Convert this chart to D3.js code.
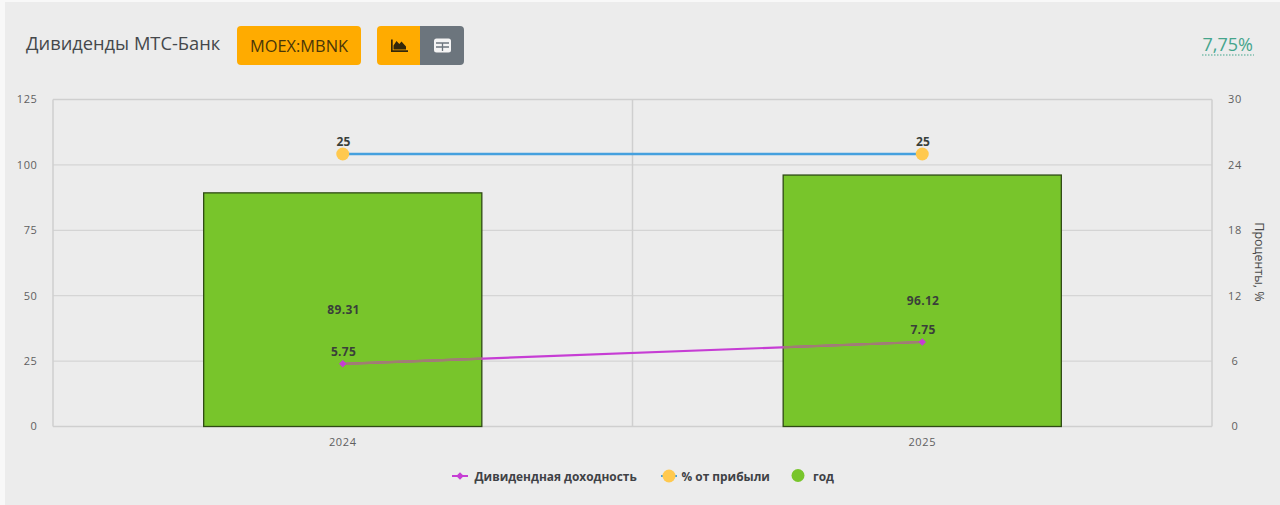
<!DOCTYPE html>
<html><head><meta charset="utf-8">
<script src="https://cdnjs.cloudflare.com/ajax/libs/d3/7.8.5/d3.min.js"></script>
<style>
html,body{margin:0;padding:0;background:#f8f8f8;overflow:hidden}
svg{display:block}
text{font-family:"Open Sans",sans-serif}
</style></head><body><svg id="c" width="1280" height="505"></svg>
<script>
const years=["2024","2025"];
const yearValues=[89.31,96.12];
const yieldValues=[5.75,7.75];
const profitShare=[25,25];
const leftTicks=[0,25,50,75,100,125];
const rightTicks=[0,6,12,18,24,30];
const legendLabels=["Дивидендная доходность","% от прибыли","год"];

const svg=d3.select("#c");
const M={l:53,r:1212,t:99.5,b:426.5};
svg.append("rect").attr("x",5).attr("y",2).attr("width",1275).attr("height",503).attr("fill","#ececec");

const x=d3.scaleBand().domain(years).range([M.l,M.r]);
const yL=d3.scaleLinear().domain([0,125]).range([M.b,M.t]);
const yR=d3.scaleLinear().domain([0,30]).range([M.b,M.t]);
const cx=d=>x(d)+x.bandwidth()/2;
const barW=x.bandwidth()*0.48;
const dataFont="'Noto Sans',sans-serif";

// header
svg.append("text").attr("x",26).attr("y",50).attr("font-size",18.3).attr("fill","#45484b").text("Дивиденды МТС-Банк");
svg.append("rect").attr("x",237).attr("y",26).attr("width",124).attr("height",39).attr("rx",4).attr("fill","#ffab00");
svg.append("text").attr("x",299).attr("y",51.5).attr("text-anchor","middle").attr("font-size",16.4).attr("fill","#4a3608").text("MOEX:MBNK");
svg.append("path").attr("d","M381 26h39v39h-39a4 4 0 0 1-4-4v-31a4 4 0 0 1 4-4z").attr("fill","#ffab00");
svg.append("path").attr("d","M420 26h40a4 4 0 0 1 4 4v31a4 4 0 0 1-4 4h-40z").attr("fill","#6c757d");
svg.append("path").attr("d","M391 39.500v12.500h17v-1.700h-15.300v-10.800zM393.500 49.500v-4l3-4.500 2.800 3 2.200-2.500 4.500 5v3z").attr("fill","#33270a");
svg.append("rect").attr("x",434).attr("y",38.500).attr("width",17).attr("height",14).attr("rx",2.500).attr("fill","#f4f4f4");
svg.append("path").attr("d","M436 47h13M442.500 43.500v7.500M436 43h13").attr("stroke","#6c757d").attr("stroke-width",1.300).attr("fill","none");
svg.append("text").attr("x",1253).attr("y",50.500).attr("text-anchor","end").attr("font-size",18).attr("fill","#45a58c").text("7,75%");
svg.append("line").attr("x1",1202).attr("x2",1254).attr("y1",55).attr("y2",55).attr("stroke","#45a58c").attr("stroke-width",1).attr("stroke-dasharray","1.500 1.500");

// grid
const grid=svg.append("g");
leftTicks.forEach(t=>grid.append("line").attr("x1",M.l).attr("x2",M.r).attr("y1",yL(t)).attr("y2",yL(t)).attr("stroke","#cfcfcf").attr("stroke-width",t===0||t===125?1.500:1));
[M.l,(M.l+M.r)/2,M.r].forEach(v=>grid.append("line").attr("x1",v).attr("x2",v).attr("y1",M.t).attr("y2",M.b).attr("stroke","#cfcfcf").attr("stroke-width",1.500));

// axes
const axL=svg.append("g").attr("transform",`translate(${M.l-15.500},0)`).call(d3.axisLeft(yL).tickValues(leftTicks).tickSize(0).tickPadding(0));
const axR=svg.append("g").attr("transform",`translate(${M.r+23},0)`).call(d3.axisRight(yR).tickValues(rightTicks).tickSize(0).tickPadding(0));
const axX=svg.append("g").attr("transform",`translate(0,${M.b+9})`).call(d3.axisBottom(x).tickSize(0).tickPadding(0));
[axL,axR,axX].forEach(a=>{a.select(".domain").remove();a.selectAll("text").attr("font-size",11).attr("fill","#5f5f5f").attr("letter-spacing",.6).attr("font-family","'Open Sans',sans-serif")});
axL.selectAll("text").attr("dy",".3em");
axR.selectAll("text").attr("dy",".3em").attr("text-anchor","middle");
axX.selectAll("text").attr("y",0).attr("dy",".95em");
svg.append("text").attr("transform",`translate(1255,262) rotate(90)`).attr("text-anchor","middle").attr("font-size",12.500).attr("fill","#4a4a4a").text("Проценты, %");

// bars
svg.append("g").selectAll("rect").data(years).join("rect")
 .attr("x",d=>cx(d)-barW/2).attr("width",barW)
 .attr("y",(d,i)=>yL(yearValues[i])).attr("height",(d,i)=>M.b-yL(yearValues[i]))
 .attr("fill","#78c52b").attr("stroke","#2e4a14").attr("stroke-width",1.300);

// lines
const pts=(vals)=>years.map((d,i)=>[cx(d),yR(vals[i])]);
const ln=d3.line();
const defs=svg.append("defs");
const cp=defs.append("clipPath").attr("id","inBars");
years.forEach((d,i)=>cp.append("rect").attr("x",cx(d)-barW/2).attr("width",barW).attr("y",yL(yearValues[i])).attr("height",M.b-yL(yearValues[i])));
svg.append("path").attr("d",ln(pts(profitShare))).attr("stroke","#45a0de").attr("stroke-width",2.400).attr("fill","none");
svg.append("path").attr("d",ln(pts(yieldValues))).attr("stroke","#c63dd4").attr("stroke-width",2.200).attr("fill","none");
svg.append("path").attr("d",ln(pts(yieldValues))).attr("stroke","#a07f70").attr("stroke-width",2.200).attr("fill","none").attr("clip-path","url(#inBars)");

// markers
const diamond=d3.symbol(d3.symbolSquare,28);
svg.append("g").selectAll("circle").data(pts(profitShare)).join("circle").attr("cx",d=>d[0]).attr("cy",d=>d[1]).attr("r",6.500).attr("fill","#ffc94f");
svg.append("g").selectAll("path").data(pts(yieldValues)).join("path").attr("transform",d=>`translate(${d[0]},${d[1]}) rotate(45)`).attr("d",diamond).attr("fill","#c63dd4");

// value labels
const lab=(px,py,t)=>svg.append("text").attr("x",px+.8).attr("y",py).attr("text-anchor","middle").attr("font-size",12).attr("font-weight",700).attr("letter-spacing",.3).attr("fill","#3a3f3a").attr("font-family",dataFont).text(t);
years.forEach((d,i)=>{
 lab(cx(d),yR(profitShare[i])-8,String(profitShare[i]));
 lab(cx(d),yR(yieldValues[i])-8,yieldValues[i].toFixed(2));
 lab(cx(d),(M.b+yL(yearValues[i]))/2+4,yearValues[i].toFixed(2));
});

// legend
const lg=svg.append("g").attr("font-weight",700).attr("font-size",11.900).attr("fill","#3f4246").attr("font-family",dataFont);
lg.append("line").attr("x1",452).attr("x2",468).attr("y1",476).attr("y2",476).attr("stroke","#c63dd4").attr("stroke-width",2);
lg.append("path").attr("transform","translate(460,476) rotate(45)").attr("d",diamond).attr("fill","#c63dd4");
lg.append("text").attr("x",474.500).attr("y",480.500).text(legendLabels[0]);
lg.append("line").attr("x1",661).attr("x2",677).attr("y1",476).attr("y2",476).attr("stroke","#45a0de").attr("stroke-width",2);
lg.append("circle").attr("cx",669).attr("cy",476).attr("r",6.500).attr("fill","#ffc94f");
lg.append("text").attr("x",681.500).attr("y",480.500).text(legendLabels[1]);
lg.append("circle").attr("cx",798).attr("cy",475.500).attr("r",6.500).attr("fill","#78c52b");
lg.append("text").attr("x",813).attr("y",480.500).text(legendLabels[2]);
</script></body></html>
